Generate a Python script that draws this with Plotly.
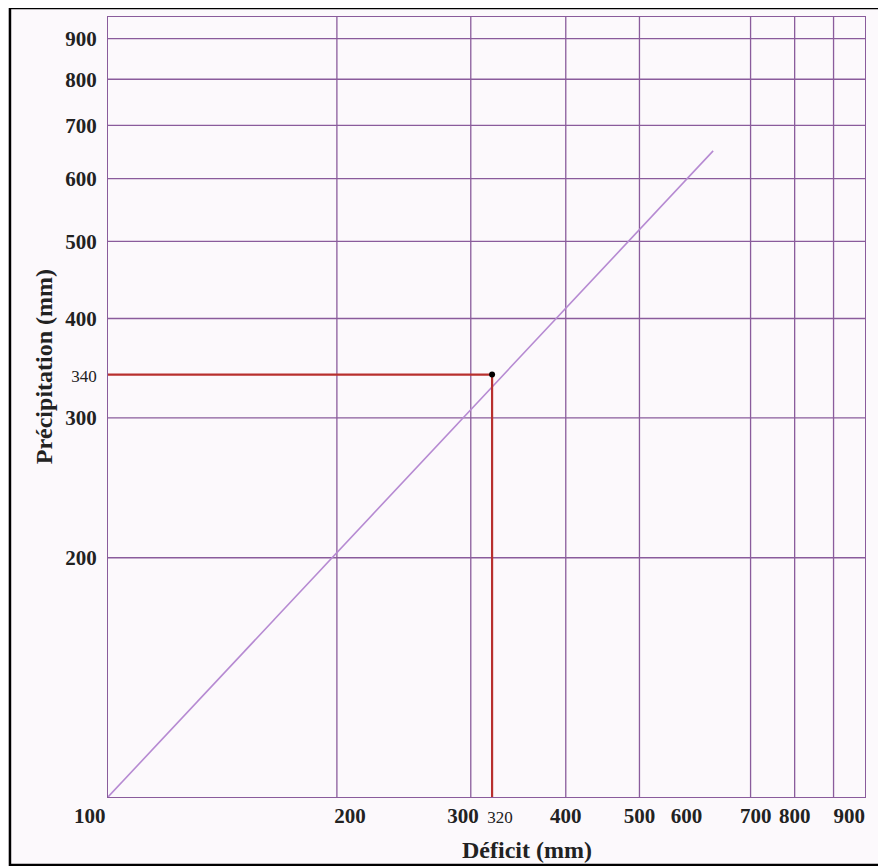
import plotly.graph_objects as go

# ---- data ----
deficit_line = [100, 625]
precip_line = [100, 650]
reading_deficit = 320
reading_precip = 340
x_tick_vals = [100, 200, 300, 320, 400, 500, 600, 700, 800, 900]
y_tick_vals = [200, 300, 340, 400, 500, 600, 700, 800, 900]
x_grid_vals = [200, 300, 400, 500, 700, 800, 900]
y_grid_vals = [200, 300, 400, 500, 600, 700, 800, 900]
x_min, x_max = 100, 990
y_min, y_max = 100, 958

GRID = "#8a5c9c"
LINE = "#b68ad2"
RED = "#b8302e"
FONT = "Liberation Serif"
NB = "&nbsp;"

fig = go.Figure()

# grid lines (drawn as traces)
gx, gy = [], []
for v in x_grid_vals:
    gx += [v, v, None]
    gy += [y_min, y_max, None]
for v in y_grid_vals:
    gx += [x_min, x_max, None]
    gy += [v, v, None]
fig.add_trace(go.Scatter(x=gx, y=gy, mode="lines",
                         line=dict(color=GRID, width=1.3),
                         hoverinfo="skip", showlegend=False))

# diagonal relation
fig.add_trace(go.Scatter(x=deficit_line, y=precip_line, mode="lines",
                         line=dict(color=LINE, width=1.6), showlegend=False))

# red reading lines
fig.add_trace(go.Scatter(x=[x_min, reading_deficit, reading_deficit],
                         y=[reading_precip, reading_precip, y_min],
                         mode="lines", line=dict(color=RED, width=2.2),
                         showlegend=False))
fig.add_trace(go.Scatter(x=[reading_deficit], y=[reading_precip], mode="markers",
                         marker=dict(color="black", size=6), showlegend=False))

# label nudges (number of non-breaking spaces: negative = shift left)
x_label_nudge = {100: -7, 200: 5, 300: -3, 320: 3, 600: -5, 700: 2, 900: 6}

def x_tick_text(v):
    if v == reading_deficit:
        core = f"<span style='font-size:17px'>{v}</span>"
    else:
        core = f"<b>{v}</b>"
    n = x_label_nudge.get(v, 0)
    return NB * n + core if n > 0 else core + NB * (-n)

def y_tick_text(v):
    if v == reading_precip:
        return f"<span style='font-size:17px'>{v}</span>"
    return f"<b>{v}</b>"

fig.update_xaxes(type="log", range=[2, 2.9956],
                 tickvals=x_tick_vals,
                 ticktext=[x_tick_text(v) for v in x_tick_vals],
                 tickfont=dict(family=FONT, size=21, color="#222"),
                 tickangle=0, automargin=False,
                 showgrid=False, zeroline=False,
                 showline=True, linecolor=GRID, linewidth=1.3, mirror=True,
                 ticks="", ticklabelstandoff=0)
fig.update_yaxes(type="log", range=[2, 2.9814],
                 tickvals=y_tick_vals,
                 ticktext=[y_tick_text(v) for v in y_tick_vals],
                 tickfont=dict(family=FONT, size=21, color="#222"),
                 automargin=False,
                 showgrid=False, zeroline=False,
                 showline=True, linecolor=GRID, linewidth=1.3, mirror=True,
                 ticks="", ticklabelstandoff=6)

fig.update_layout(
    width=878, height=858,
    margin=dict(l=100, r=21, t=9, b=69),
    paper_bgcolor="#fcf9fc", plot_bgcolor="#fcf9fc",
    font=dict(family=FONT),
    annotations=[
        dict(text="<b>Déficit (mm)</b>", xref="paper", yref="paper",
             x=0.553, y=-0.068, showarrow=False, xanchor="center", yanchor="middle",
             font=dict(family=FONT, size=24, color="#222")),
        dict(text="<b>Précipitation (mm)</b>", xref="paper", yref="paper",
             x=-0.0845, y=0.551, showarrow=False, textangle=-90,
             xanchor="center", yanchor="middle",
             font=dict(family=FONT, size=24, color="#222")),
    ],
    shapes=[dict(type="rect", xref="paper", yref="paper",
                 x0=-0.1295, x1=1.0225, y0=-0.0872, y1=1.0115,
                 line=dict(color="black", width=2.5))],
)

fig.write_html("out.html")
